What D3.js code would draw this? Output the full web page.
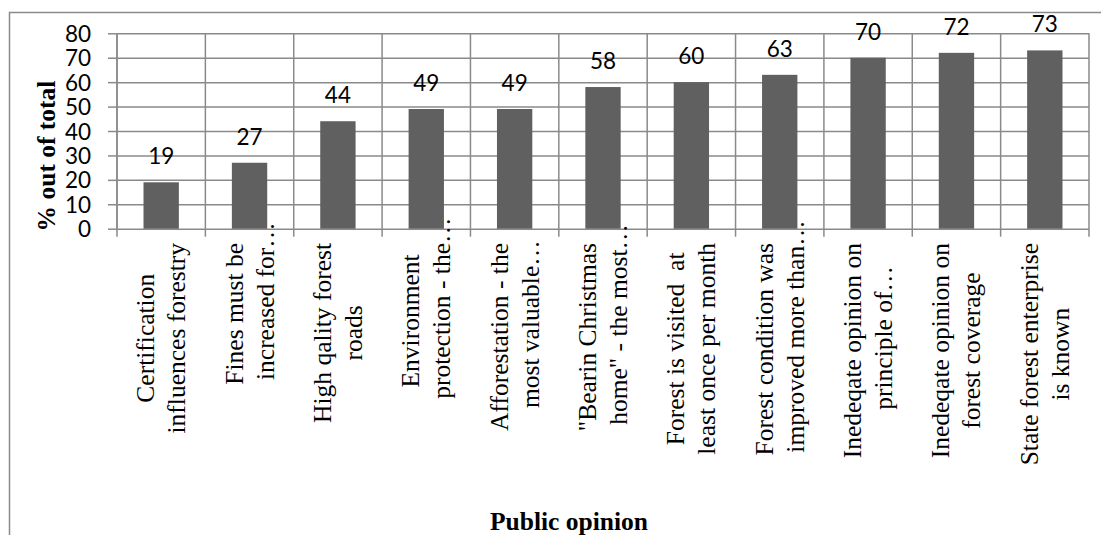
<!DOCTYPE html>
<html>
<head>
<meta charset="utf-8">
<script src="https://cdn.jsdelivr.net/npm/d3@7"></script>
<style>
  html, body { margin: 0; padding: 0; background: #ffffff; }
  svg { display: block; }
  .num { font-family: Lato, "Open Sans", sans-serif; font-size: 22.5px; fill: #000; }
  .cat { font-family: "Liberation Serif", "Times New Roman", serif; font-size: 25.5px; fill: #000; white-space: pre; }
  .title { font-family: "Liberation Serif", "Times New Roman", serif; font-size: 25.5px; font-weight: bold; fill: #000; }
</style>
</head>
<body>
<svg id="chart" width="1101" height="535"></svg>
<script>
// Share of respondents agreeing with each statement
const categories = [
  ["Certification", "influences forestry"],
  ["Fines must be", "increased for…"],
  ["High qality forest", "roads"],
  ["Environment", "protection - the…"],
  ["Afforestation - the", "most valuable…"],
  ["\"Bearin Christmas", "home\" - the most…"],
  ["Forest is visited  at", "least once per month"],
  ["Forest condition was", "improved more than…"],
  ["Inedeqate opinion on", "principle of…"],
  ["Inedeqate opinion on", "forest coverage"],
  ["State forest enterprise", "is known"]
];
const values = [19, 27, 44, 49, 49, 58, 60, 63, 70, 72, 73];
const yTicks = [0, 10, 20, 30, 40, 50, 60, 70, 80];
const yTitle = "% out of total";
const xTitle = "Public opinion";

const svg = d3.select("#chart");
const gridColor = "#8a8a8a";
const barColor = "#606060";

const plot = { left: 117, right: 1089, top: 33.3, bottom: 228.7 };
const idx = d3.range(categories.length);

const xCat = d3.scaleBand().domain(idx).range([plot.left, plot.right]).padding(0);
const xBar = d3.scaleBand().domain(idx).range([plot.left, plot.right])
  .paddingInner(0.6).paddingOuter(0.3);
const y = d3.scaleLinear().domain([0, 80]).range([plot.bottom, plot.top]);

// outer chart frame (left and top edges)
svg.append("path")
  .attr("d", `M9.5,535 V12.5 H1101`)
  .attr("fill", "none").attr("stroke", gridColor).attr("stroke-width", 1.5);

// horizontal gridlines + y axis ticks
const yAxis = d3.axisLeft(y).tickValues(yTicks).tickSize(9).tickPadding(17).tickFormat(d3.format("d"));
const gy = svg.append("g").attr("transform", `translate(${plot.left},0)`).call(yAxis);
gy.select(".domain").attr("stroke", gridColor).attr("stroke-width", 1.5)
  .attr("d", `M0,${plot.top}V${plot.bottom}`);
gy.selectAll(".tick line").attr("stroke", gridColor).attr("stroke-width", 1.5)
  .attr("x2", -9);
gy.selectAll(".tick").append("line")
  .attr("x1", 0).attr("x2", plot.right - plot.left)
  .attr("stroke", gridColor).attr("stroke-width", 1.5);
gy.selectAll(".tick text").attr("class", "num").attr("dy", "0.36em")
  .style("font-family", null).style("font-size", null);
gy.attr("font-family", null).attr("font-size", null);

// vertical gridlines at category boundaries, extended below axis as ticks
const bounds = idx.map(i => xCat(i)).concat([plot.right]);
svg.append("g").selectAll("line").data(bounds).join("line")
  .attr("x1", d => d).attr("x2", d => d)
  .attr("y1", plot.top).attr("y2", plot.bottom + 8)
  .attr("stroke", gridColor).attr("stroke-width", 1.5);

// bars
svg.append("g").selectAll("rect").data(values).join("rect")
  .attr("x", (d, i) => xBar(i))
  .attr("width", xBar.bandwidth())
  .attr("y", d => y(d))
  .attr("height", d => y(0) - y(d))
  .attr("fill", barColor);

// value labels
svg.append("g").selectAll("text").data(values).join("text")
  .attr("class", "num")
  .attr("text-anchor", "middle")
  .attr("x", (d, i) => xBar(i) + xBar.bandwidth() / 2)
  .attr("y", d => y(d) - 18)
  .text(d => d);

// rotated two-line category labels
const labelTop = 243;
const lineOffsets = [-7, 24];
categories.forEach((lines, i) => {
  const cx = xCat(i) + xCat.bandwidth() / 2;
  const g = svg.append("g");
  const texts = lines.map((line, k) => {
    const base = line.replace(/…$/, "");
    const t = g.append("text").attr("class", "cat").text(base);
    const w = t.node().getComputedTextLength();
    t.text(line);
    return { t, w, k };
  });
  const maxW = d3.max(texts, d => d.w);
  const cy = labelTop + maxW / 2;
  g.attr("transform", `translate(${cx},${cy}) rotate(-90)`);
  texts.forEach(({ t, w, k }) => {
    t.attr("x", -w / 2).attr("y", lineOffsets[k]).attr("text-anchor", "start");
  });
});

// axis titles
svg.append("text").attr("class", "title")
  .attr("text-anchor", "middle")
  .attr("transform", `translate(55,156) rotate(-90)`)
  .text(yTitle);

svg.append("text").attr("class", "title")
  .attr("text-anchor", "middle")
  .attr("x", 569).attr("y", 530)
  .text(xTitle);
</script>
</body>
</html>
